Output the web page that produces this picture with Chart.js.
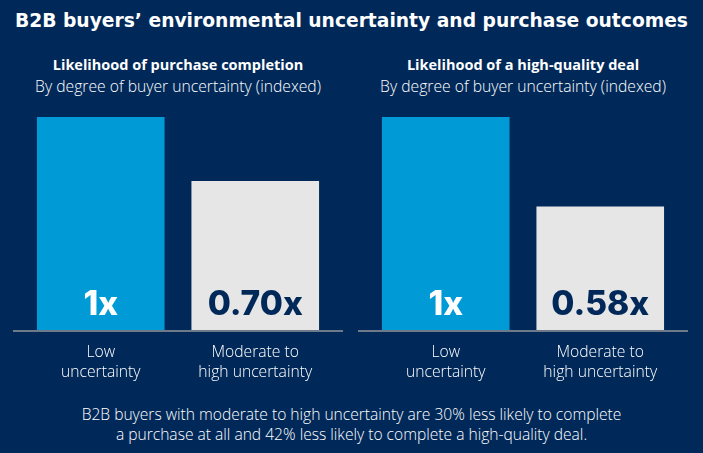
<!DOCTYPE html>
<html>
<head>
<meta charset="utf-8">
<script src="https://cdn.jsdelivr.net/npm/chart.js@4"></script>
<style>
  html, body { margin: 0; padding: 0; }
  body { width: 703px; height: 453px; background: #00295a; overflow: hidden; position: relative; font-family: "Open Sans", Roboto, sans-serif; color: #ffffff; }
  .t { position: absolute; text-align: center; white-space: nowrap; }
  #title { left: 0; width: 703px; top: 7px; line-height: 28px; font-size: 18.7px; font-weight: 700; font-family: "DejaVu Sans", Inter, sans-serif; }
  .ph { font-size: 14.5px; font-weight: 700; line-height: 20px; }
  .ps { font-size: 15.7px; font-weight: 300; line-height: 20px; }
  #foot { left: 0; width: 703px; top: 404px; font-size: 15.6px; font-weight: 300; line-height: 20px; }
  canvas { position: absolute; }
</style>
</head>
<body>
<div id="title" class="t">B2B buyers’ environmental uncertainty and purchase outcomes</div>
<div class="t ph" style="left:13px;width:330px;top:55px;">Likelihood of purchase completion</div>
<div class="t ps" style="left:13px;width:330px;top:76px;">By degree of buyer uncertainty (indexed)</div>
<div class="t ph" style="left:358px;width:330px;top:55px;">Likelihood of a high-quality deal</div>
<div class="t ps" style="left:358px;width:330px;top:76px;">By degree of buyer uncertainty (indexed)</div>
<div id="foot" class="t">B2B buyers with moderate to high uncertainty are 30% less likely to complete<br>a purchase at all and 42% less likely to complete a high-quality deal.</div>

<div style="position:absolute;left:13px;top:110px;width:330px;height:286px;"><canvas id="c1"></canvas></div>
<div style="position:absolute;left:358px;top:110px;width:330px;height:286px;"><canvas id="c2"></canvas></div>

<script>
const categories = [["Low", "uncertainty"], ["Moderate to", "high uncertainty"]];
const completionValues = [1, 0.70];
const completionLabels = ["1x", "0.70x"];
const dealValues = [1, 0.58];
const dealLabels = ["1x", "0.58x"];

const NAVY = "#00295a";
const BLUE = "#009ad6";
const GRAY = "#e6e6e6";

const baselinePlugin = {
  id: "baseline",
  afterDatasetsDraw(chart) {
    const ctx = chart.ctx;
    const y = chart.scales.y.getPixelForValue(0);
    ctx.save();
    ctx.strokeStyle = "#6c7a89";
    ctx.lineWidth = 2;
    ctx.beginPath();
    ctx.moveTo(0, y + 1);
    ctx.lineTo(chart.width, y + 1);
    ctx.stroke();
    ctx.restore();
  }
};

const valueLabelPlugin = {
  id: "valueLabels",
  afterDatasetsDraw(chart) {
    const ctx = chart.ctx;
    const meta = chart.getDatasetMeta(0);
    const labels = chart.data.datasets[0].valueLabels;
    ctx.save();
    ctx.font = "800 33.5px Inter, Roboto, sans-serif";
    ctx.textAlign = "center";
    ctx.textBaseline = "alphabetic";
    meta.data.forEach((bar, i) => {
      ctx.fillStyle = i === 0 ? "#ffffff" : NAVY;
      ctx.fillText(labels[i], bar.x, bar.base - 15);
    });
    ctx.restore();
  }
};

function makeChart(id, values, labels) {
  return new Chart(document.getElementById(id), {
    type: "bar",
    data: {
      labels: categories,
      datasets: [{
        data: values,
        valueLabels: labels,
        backgroundColor: [BLUE, GRAY],
        borderWidth: 0,
        categoryPercentage: 1,
        barPercentage: 0.826
      }]
    },
    options: {
      responsive: true,
      maintainAspectRatio: false,
      animation: false,
      events: [],
      layout: { padding: { top: 7, left: 10.5, right: 10.5, bottom: 0 } },
      plugins: { legend: { display: false }, tooltip: { enabled: false }, title: { display: false } },
      scales: {
        y: { display: false, min: 0, max: 1 },
        x: {
          grid: { display: false, drawTicks: false },
          border: { display: false },
          ticks: {
            color: "#ffffff",
            padding: 13,
            maxRotation: 0,
            autoSkip: false,
            font: { family: "'Open Sans'", size: 15.7, weight: 300, lineHeight: 1.274 }
          }
        }
      }
    },
    plugins: [baselinePlugin, valueLabelPlugin]
  });
}

makeChart("c1", completionValues, completionLabels);
makeChart("c2", dealValues, dealLabels);
</script>
</body>
</html>
